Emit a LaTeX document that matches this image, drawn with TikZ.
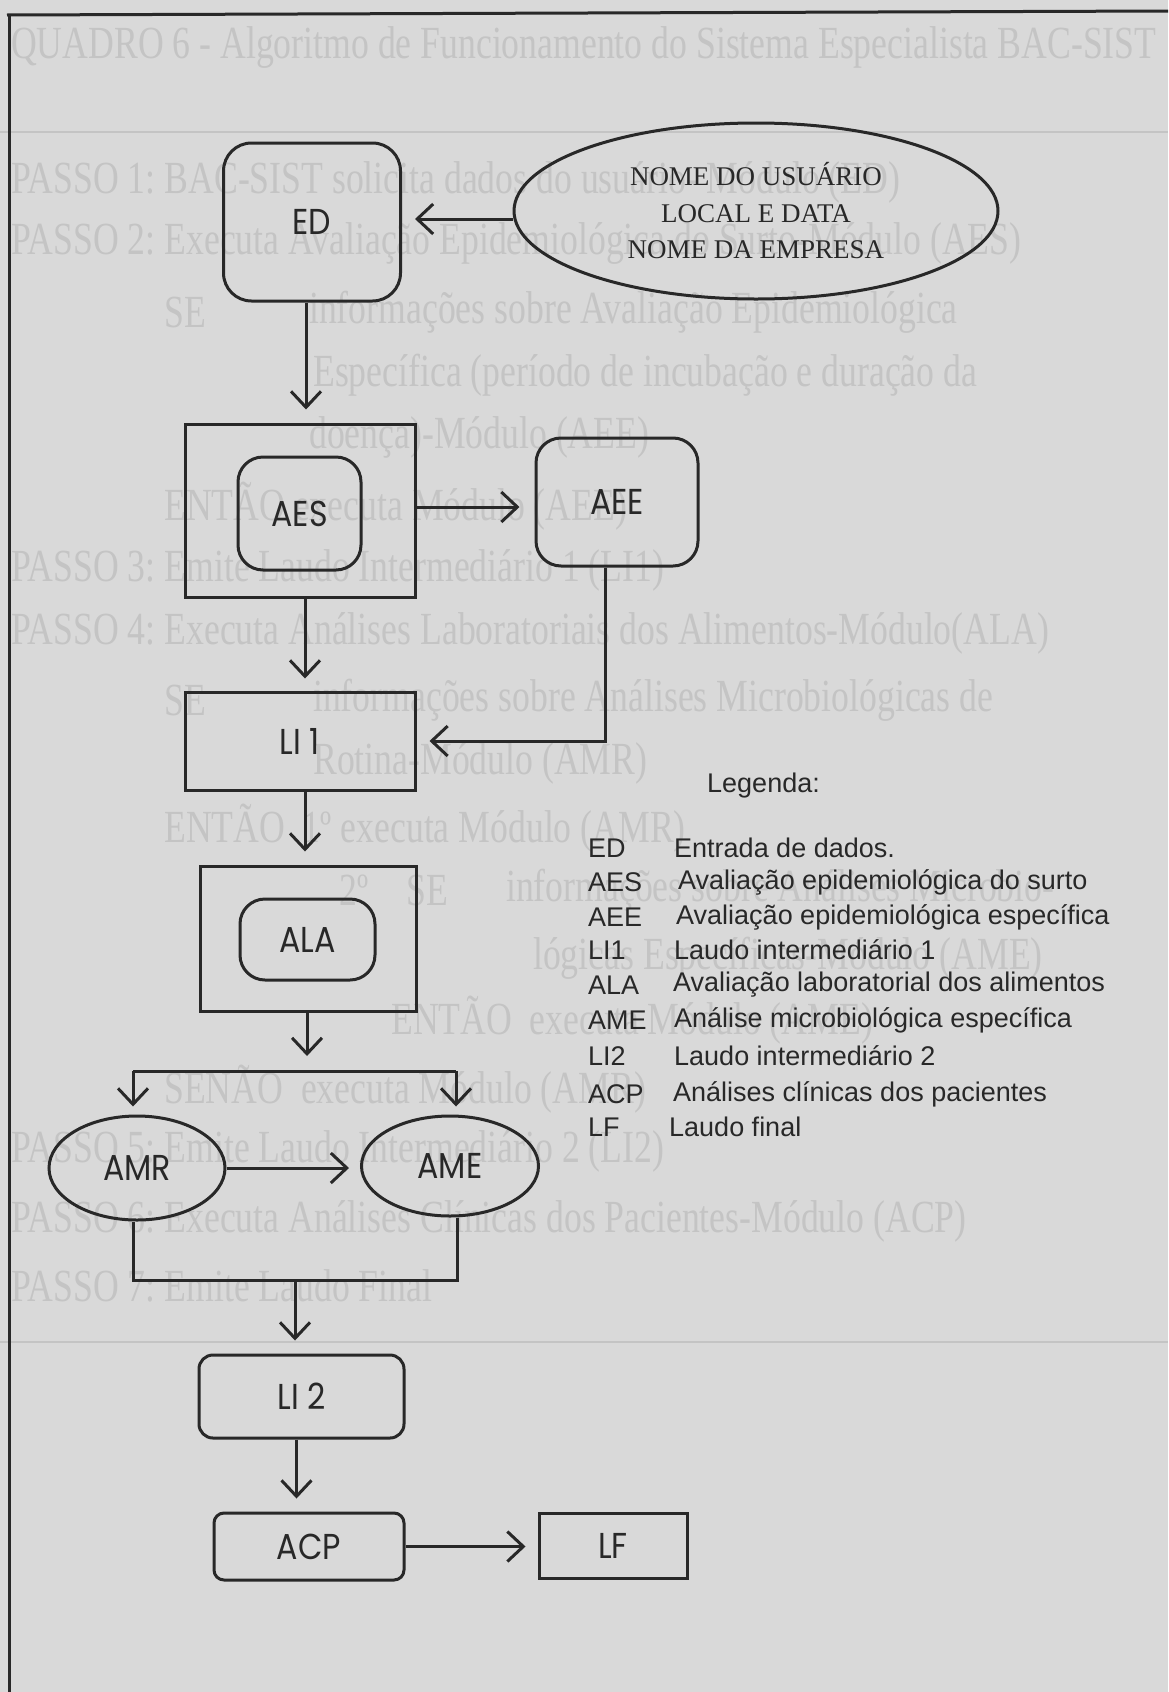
\documentclass[tikz,border=0pt]{standalone}
\usepackage{graphicx}
\usepackage{fontspec}
\setmainfont{Liberation Serif}
\newfontfamily\boxfont{Poppins}
\newfontfamily\legfont{Liberation Sans}
\usetikzlibrary{arrows.meta,shapes.geometric,calc}
\definecolor{bg}{RGB}{217,217,217}
\definecolor{ink}{RGB}{40,40,40}
\definecolor{ghostc}{RGB}{196,196,196}
\newcommand\lb[1]{\scalebox{0.88}[1]{#1}}
\newcommand\gh[1]{\scalebox{0.776}[1]{#1}}
\frenchspacing
\begin{document}
\begin{tikzpicture}[x=1pt,y=-1pt,
  ln/.style={draw=ink, line width=3pt},
  arr/.style={draw=ink, line width=3pt, -{Straight Barb[length=16pt,width=30pt]}},
  bx/.style={draw=ink, line width=3pt, inner sep=0pt, font=\boxfont\fontsize{36}{40}\selectfont, text=ink},
  leg/.style={anchor=west, inner sep=0pt, font=\legfont\fontsize{27}{30}\selectfont, text=ink},
  ghost/.style={anchor=west, inner sep=0pt, font=\fontsize{46}{50}\selectfont, text=ghostc}]
\useasboundingbox (0,0) rectangle (1168,1692);
\fill[bg] (0,0) rectangle (1168,1692);

% show-through text from the back of the page
\draw[ghostc, line width=2pt] (0,132) -- (1168,132);
\draw[ghostc, line width=2pt] (0,1342) -- (1168,1342);
\node[ghost] (g1) at (11,48) {\gh{QUADRO 6 - Algoritmo de Funcionamento do Sistema Especialista BAC-SIST}};
\node[ghost] (g2) at (11,182) {\gh{PASSO 1: BAC-SIST solicita dados do usuário- Módulo (ED)}};
\node[ghost] (g3) at (11,243) {\gh{PASSO 2: Executa Avaliação Epidemiológica do Surto-Módulo (AES)}};
\node[ghost] (g4) at (164,312) {\gh{SE}};
\node[ghost] (g5) at (309,312) {\gh{informações sobre Avaliação Epidemiológica}};
\node[ghost] (g6) at (313,375) {\gh{Específica (período de incubação e duração da}};
\node[ghost] (g7) at (309,437) {\gh{doença)-Módulo (AEE)}};
\node[ghost] (g8) at (164,506) {\gh{ENTÃO executa Módulo (AEE)}};
\node[ghost] (g9) at (11,570) {\gh{PASSO 3: Emite Laudo Intermediário 1 (LI1)}};
\node[ghost] (g10) at (11,633) {\gh{PASSO 4: Executa Análises Laboratoriais dos Alimentos-Módulo(ALA)}};
\node[ghost] (g11) at (164,700) {\gh{SE}};
\node[ghost] (g12) at (313,700) {\gh{informações sobre Análises Microbiológicas de}};
\node[ghost] (g13) at (313,763) {\gh{Rotina-Módulo (AMR)}};
\node[ghost] (g14) at (164,828) {\gh{ENTÃO \ 1º executa Módulo (AMR)}};
\node[ghost] (g15) at (339,890) {\gh{2º}};
\node[ghost] (g16) at (406,890) {\gh{SE}};
\node[ghost] (g17) at (506,890) {\gh{informações sobre Análises Microbio-}};
\node[ghost] (g18) at (533,958) {\gh{lógicas Específicas-Módulo (AME)}};
\node[ghost] (g19) at (391,1020) {\gh{ENTÃO \ executa Módulo (AME)}};
\node[ghost] (g20) at (164,1089) {\gh{SENÃO \ executa Módulo (AMR)}};
\node[ghost] (g21) at (11,1151) {\gh{PASSO 5: Emite Laudo Intermediário 2 (LI2)}};
\node[ghost] (g22) at (11,1221) {\gh{PASSO 6: Executa Análises Clínicas dos Pacientes-Módulo (ACP)}};
\node[ghost] (g23) at (11,1286) {\gh{PASSO 7: Emite Laudo Final}};

% page frame
\draw[ln] (7,15) -- (1168,11);
\draw[ln] (9,14) -- (9,1692);

% nodes
\node[bx, rounded corners=28pt, minimum width=177pt, minimum height=158pt] (ed) at (312,222) {\lb{ED}};
\node[draw=ink, line width=3pt, ellipse, inner sep=0pt, minimum width=484pt, minimum height=176pt,
      align=center, text=ink, font=\fontsize{27}{36.5}\selectfont] (info) at (756,211)
      {NOME DO USUÁRIO\\LOCAL E DATA\\NOME DA EMPRESA};
\node[bx, minimum width=230pt, minimum height=173pt] (aesbox) at (300,510.5) {};
\node[bx, rounded corners=25pt, minimum width=123pt, minimum height=113pt] (aes) at (299.5,513.5) {\lb{AES}};
\node[bx, rounded corners=25pt, minimum width=162pt, minimum height=128pt] (aee) at (617,502) {\lb{AEE}};
\node[bx, minimum width=230pt, minimum height=98pt] (li1) at (300,741) {\lb{LI 1}};
\node[bx, minimum width=216pt, minimum height=145pt] (alabox) at (308,938.5) {};
\node[bx, rounded corners=25pt, minimum width=135pt, minimum height=81pt] (ala) at (307.5,939.5) {\lb{ALA}};
\node[bx, ellipse, minimum width=176pt, minimum height=104pt] (amr) at (137,1168) {\lb{AMR}};
\node[bx, ellipse, minimum width=177pt, minimum height=100pt] (ame) at (450,1166) {\lb{AME}};
\node[bx, rounded corners=14pt, minimum width=205pt, minimum height=83pt] (li2) at (301.5,1396.5) {\lb{LI 2}};
\node[bx, rounded corners=10pt, minimum width=190pt, minimum height=67pt] (acp) at (309,1546.5) {\lb{ACP}};
\node[bx, minimum width=148pt, minimum height=65pt] (lf) at (613,1545.5) {\lb{LF}};

% helper coordinates
\coordinate (sp) at (307,1071);
\coordinate (spL) at (133,1071);
\coordinate (spR) at (456,1071);
\coordinate (jL) at (133,1280);
\coordinate (jR) at (457,1280);
\coordinate (jM) at (295,1280);

% connectors
\draw[arr, shorten >=13pt] (info.west |- 0,219) -- (ed.east |- 0,219);
\draw[arr, shorten >=13pt] ($(ed.south)+(-6,0)$) -- ($(ed.south |- aesbox.north)+(-6,0)$);
\draw[arr, shorten >=15pt] (aesbox.east |- 0,507) -- (aee.west |- 0,507);
\draw[arr, shorten >=13pt] ($(aee.south)+(-12,0)$) |- (li1.east);
\draw[arr, shorten >=12pt] ($(aesbox.south)+(5,0)$) -- ($(li1.north)+(5,0)$);
\draw[arr, shorten >=13pt] ($(li1.south)+(5,0)$) -- ($(li1.south |- alabox.north)+(5,0)$);
\draw[arr, shorten >=15pt] (alabox.south -| sp) -- (sp);
\draw[ln] (spL) -- (spR);
\draw[arr, shorten >=8pt] (spL) -- (spL |- amr.north);
\draw[arr, shorten >=8pt] (spR) -- (spR |- ame.north);
\draw[arr, shorten >=11pt] (amr.east) -- (amr.east -| ame.west);
\draw[ln] (amr.south -| jL) -- (jL) -- (jR) -- (ame.south -| jR);
\draw[arr, shorten >=13pt] (jM) -- (jM |- li2.north);
\draw[arr, shorten >=13pt] ($(li2.south)+(-5,0)$) -- ($(li2.south |- acp.north)+(-5,0)$);
\draw[arr, shorten >=12pt] (acp.east) -- (acp.east -| lf.west);

% legend
\node[leg] (legt) at (707,786) {Legenda:};
\node[leg] (a1) at (588,848) {ED};   \node[leg] (d1) at (674,848) {Entrada de dados.};
\node[leg] (a2) at (588,882) {AES};  \node[leg] (d2) at (678,882) {Avaliação epidemiológica do surto};
\node[leg] (a3) at (588,917) {AEE};  \node[leg] (d3) at (676,917) {Avaliação epidemiológica específica};
\node[leg] (a4) at (588,950) {LI1};  \node[leg] (d4) at (674,950) {Laudo intermediário 1};
\node[leg] (a5) at (588,985) {ALA};  \node[leg] (d5) at (673,985) {Avaliação laboratorial dos alimentos};
\node[leg] (a6) at (588,1020) {AME}; \node[leg] (d6) at (674,1020) {Análise microbiológica específica};
\node[leg] (a7) at (588,1056) {LI2};  \node[leg] (d7) at (674,1056) {Laudo intermediário 2};
\node[leg] (a8) at (588,1094) {ACP}; \node[leg] (d8) at (673,1094) {Análises clínicas dos pacientes};
\node[leg] (a9) at (588,1127) {LF};  \node[leg] (d9) at (669,1127) {Laudo final};
\end{tikzpicture}
\end{document}
